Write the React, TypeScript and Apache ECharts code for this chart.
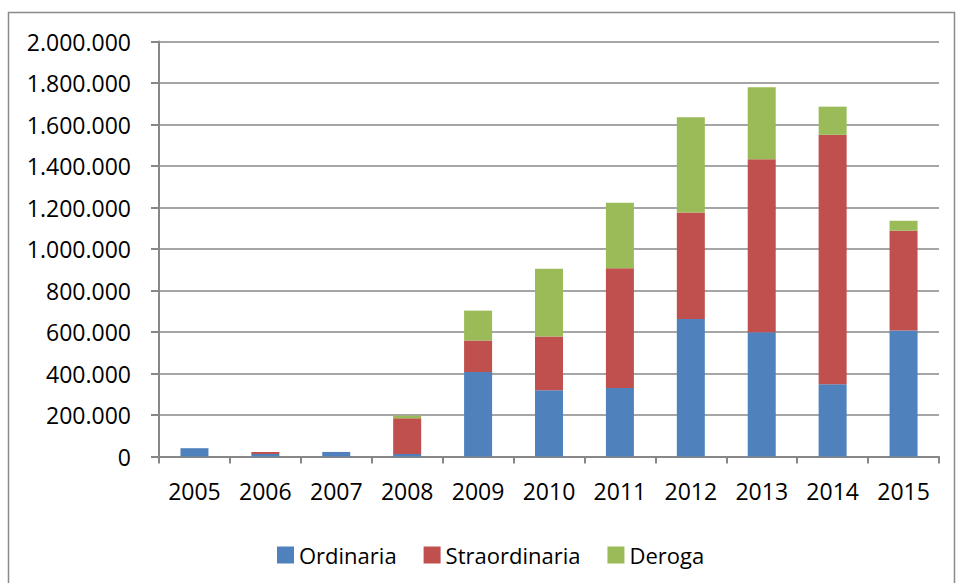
import React, { useEffect, useRef } from "react";
import * as echarts from "echarts";

const categories = ["2005", "2006", "2007", "2008", "2009", "2010", "2011", "2012", "2013", "2014", "2015"];
const ordinaria = [40000, 12000, 22000, 12000, 407000, 319000, 330000, 663000, 599000, 348000, 607000];
const straordinaria = [0, 10000, 0, 172000, 152000, 259000, 577000, 513000, 834000, 1202000, 481000];
const deroga = [0, 0, 0, 13000, 144000, 327000, 316000, 459000, 347000, 136000, 48000];

const seriesNames = ["Ordinaria", "Straordinaria", "Deroga"];
const seriesColors = ["#4F81BD", "#C0504D", "#9BBB59"];

const fmt = (v: number) => String(v).replace(/\B(?=(\d{3})+(?!\d))/g, ".");

export default function App() {
  const ref = useRef<HTMLDivElement>(null);
  useEffect(() => {
    if (!ref.current) return;
    const chart = echarts.init(ref.current, undefined, { renderer: "svg" });
    const font = "'Open Sans', sans-serif";
    const data = [ordinaria, straordinaria, deroga];
    chart.setOption({
      animation: false,
      backgroundColor: "#ffffff",
      graphic: [
        {
          type: "rect",
          shape: { x: 8.5, y: 12.5, width: 946, height: 590 },
          style: { fill: "none", stroke: "#8a8a8a", lineWidth: 1.5 },
          silent: true,
        },
      ],
      grid: { left: 159, right: 18, top: 41.5, bottom: 126.5, containLabel: false },
      legend: {
        left: 272,
        top: 539,
        itemWidth: 17,
        itemHeight: 17,
        itemGap: 27,
        icon: "rect",
        textStyle: { fontFamily: font, fontSize: 22, color: "#000", padding: [0, 0, 0, 0] },
        data: seriesNames,
      },
      xAxis: {
        type: "category",
        data: categories,
        boundaryGap: true,
        axisLine: { lineStyle: { color: "#878787", width: 2 } },
        axisTick: { show: true, length: 7, alignWithLabel: false, lineStyle: { color: "#878787", width: 2 } },
        axisLabel: { fontFamily: font, fontSize: 23, color: "#000", margin: 23, interval: 0 },
      },
      yAxis: {
        type: "value",
        min: 0,
        max: 2000000,
        interval: 200000,
        axisLine: { show: true, lineStyle: { color: "#878787", width: 2 } },
        axisTick: { show: true, length: 8, lineStyle: { color: "#878787", width: 2 } },
        axisLabel: { fontFamily: font, fontSize: 23, color: "#000", margin: 28, formatter: (v: number) => fmt(v) },
        splitLine: { show: true, lineStyle: { color: "#878787", width: 1.5 } },
      },
      series: seriesNames.map((name, i) => ({
        name,
        type: "bar",
        stack: "total",
        barWidth: 28,
        data: data[i],
        itemStyle: { color: seriesColors[i] },
      })),
    });
    return () => chart.dispose();
  }, []);
  return <div ref={ref} style={{ width: 957, height: 583, position: "absolute", left: 0, top: 0 }} />;
}
